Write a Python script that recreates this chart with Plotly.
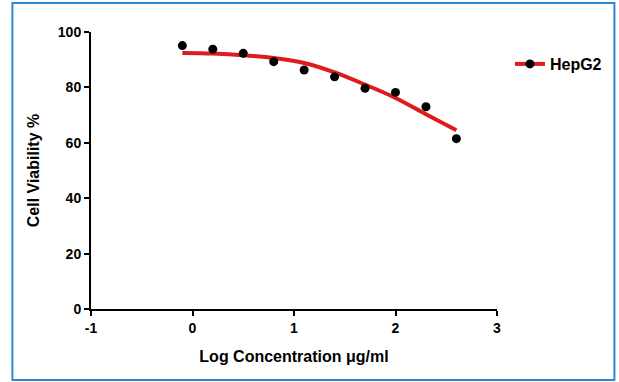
import plotly.graph_objects as go

log_conc = [-0.1, 0.2, 0.5, 0.8, 1.1, 1.4, 1.7, 2.0, 2.3, 2.6]
viability = [95.1, 93.8, 92.3, 89.3, 86.3, 83.8, 79.7, 78.2, 73.0, 61.5]
fit_x = [-0.1, 0.2, 0.5, 0.8, 1.1, 1.4, 1.7, 2.0, 2.3, 2.6]
fit_y = [92.4, 92.2, 91.6, 90.6, 88.8, 85.4, 81.0, 76.2, 70.3, 64.5]
x_ticks = [-1, 0, 1, 2, 3]
y_ticks = [0, 20, 40, 60, 80, 100]
series_name = "HepG2"

W, H = 619, 382
L, R, T, B = 91, 120, 32, 73
pw, ph = W - L - R, H - T - B

def px2paper_x(px):
    return (px - L) / pw

def px2paper_y(py):
    return (H - B - py) / ph

fig = go.Figure()
fig.add_trace(go.Scatter(
    x=fit_x, y=fit_y, mode="lines", line=dict(color="#e01b1b", width=4, shape="spline"),
    showlegend=False, hoverinfo="skip"))
fig.add_trace(go.Scatter(
    x=log_conc, y=viability, mode="markers",
    marker=dict(color="black", size=9), showlegend=False))
# legend entry: red line with black marker
fig.add_trace(go.Scatter(
    x=[None], y=[None], mode="lines+markers", name=series_name,
    line=dict(color="#e01b1b", width=4), marker=dict(color="black", size=9)))

font_main = "Liberation Sans, Arial, sans-serif"
fig.update_layout(
    width=W, height=H,
    margin=dict(l=L, r=R, t=T, b=B),
    paper_bgcolor="white", plot_bgcolor="white",
    font=dict(family=font_main, color="black"),
    showlegend=True,
    legend=dict(x=px2paper_x(512), y=px2paper_y(47), xanchor="left", yanchor="top",
                font=dict(size=16, family=font_main, weight="bold"),
                bgcolor="rgba(0,0,0,0)", itemwidth=30),
    xaxis=dict(range=[-1, 3], tickvals=x_ticks, ticktext=[str(v) for v in x_ticks],
               showgrid=False, zeroline=False, showline=True, linecolor="black", linewidth=2,
               ticks="outside", ticklen=5, tickwidth=2, tickcolor="black",
               tickfont=dict(size=14, weight="bold"),
               title=dict(text="Log Concentration μg/ml", font=dict(size=16, weight="bold"), standoff=16)),
    yaxis=dict(range=[0, 100], tickvals=y_ticks, ticktext=[str(v) for v in y_ticks],
               showgrid=False, zeroline=False, showline=True, linecolor="black", linewidth=2,
               ticks="outside", ticklen=5, tickwidth=2, tickcolor="black",
               tickfont=dict(size=14, weight="bold"),
               title=dict(text="Cell Viability %", font=dict(size=16, weight="bold"), standoff=14)),
    shapes=[dict(type="rect", xref="paper", yref="paper",
                 x0=px2paper_x(12), x1=px2paper_x(617), y0=px2paper_y(380), y1=px2paper_y(3),
                 line=dict(color="#2f86d6", width=2), fillcolor="rgba(0,0,0,0)", layer="above")],
)

fig.write_html("out.html", config={"displayModeBar": False},
               post_script="document.body.style.margin='0';document.body.style.padding='0';")
